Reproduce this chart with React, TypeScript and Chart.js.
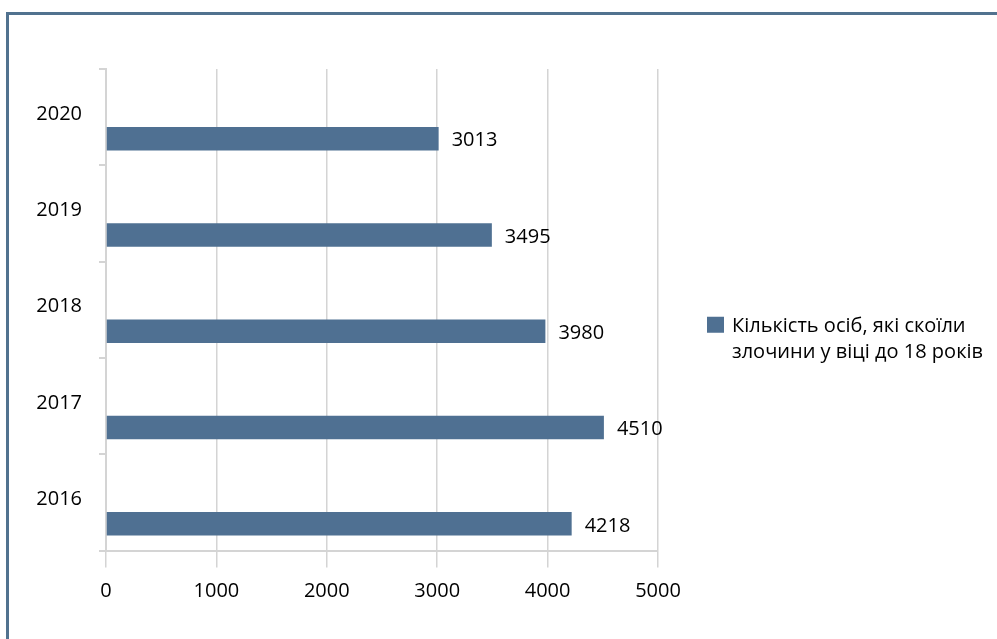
import React, { useEffect, useRef } from 'react';
import { Chart, registerables } from 'chart.js';

Chart.register(...registerables);

const years = ['2020', '2019', '2018', '2017', '2016'];
const offenders = [3013, 3495, 3980, 4510, 4218];
const placeholder = [null, null, null, null, null];
const seriesLabel = 'Кількість осіб, які скоїли злочини у віці до 18 років';
const xTickValues = [0, 1000, 2000, 3000, 4000, 5000];

const FONT = '"Open Sans", "Noto Sans", sans-serif';
const TEXT = '#000000';
const BAR = '#4f7092';
const GRID = '#d4d4d4';
const FONT_SIZE = 20;

const valueLabels = {
  id: 'valueLabels',
  afterDatasetsDraw(chart: any) {
    const ctx = chart.ctx;
    const meta = chart.getDatasetMeta(1);
    const data = chart.data.datasets[1].data;
    ctx.save();
    ctx.font = `${FONT_SIZE}px ${FONT}`;
    ctx.fillStyle = TEXT;
    ctx.textAlign = 'left';
    ctx.textBaseline = 'middle';
    meta.data.forEach((bar: any, i: number) => {
      ctx.fillText(String(data[i]), bar.x + 13, bar.y + 2);
    });
    ctx.restore();
  },
};

const sideLegend = {
  id: 'sideLegend',
  afterDraw(chart: any) {
    const { ctx, chartArea } = chart;
    const ds = chart.data.datasets[1];
    ctx.save();
    ctx.font = `${FONT_SIZE}px ${FONT}`;
    const words = String(ds.label).split(' ');
    const maxW = 255;
    const lines: string[] = [];
    let cur = '';
    words.forEach((w) => {
      const t = cur ? cur + ' ' + w : w;
      if (ctx.measureText(t).width > maxW && cur) {
        lines.push(cur);
        cur = w;
      } else cur = t;
    });
    if (cur) lines.push(cur);
    const lh = 26;
    const x0 = chartArea.right + 49;
    const cy = (chartArea.top + chartArea.bottom) / 2 + 30;
    const firstY = cy - ((lines.length - 1) * lh) / 2;
    ctx.fillStyle = ds.backgroundColor;
    ctx.fillRect(x0, firstY - 10, 17, 16);
    ctx.fillStyle = TEXT;
    ctx.textAlign = 'left';
    ctx.textBaseline = 'middle';
    lines.forEach((l, i) => ctx.fillText(l, x0 + 25, firstY + i * lh));
    ctx.restore();
  },
};

export default function App() {
  const ref = useRef<HTMLCanvasElement>(null);

  useEffect(() => {
    if (!ref.current) return;
    const chart = new Chart(ref.current, {
      type: 'bar',
      data: {
        labels: years,
        datasets: [
          {
            label: '',
            data: placeholder as any,
            backgroundColor: 'rgba(0,0,0,0)',
          },
          {
            label: seriesLabel,
            data: offenders,
            backgroundColor: BAR,
          },
        ],
      },
      options: {
        indexAxis: 'y',
        responsive: false,
        animation: false,
        categoryPercentage: 0.893,
        barPercentage: 0.547,
        layout: { padding: { left: 0, top: 69, right: 339, bottom: 0 } },
        plugins: {
          legend: { display: false },
          tooltip: { enabled: false },
        },
        scales: {
          x: {
            type: 'linear',
            min: 0,
            max: 5000,
            afterBuildTicks: (scale: any) => {
              scale.ticks = xTickValues.map((v) => ({ value: v }));
            },
            afterFit: (scale: any) => {
              scale.height = 88.5;
            },
            grid: { color: GRID, lineWidth: 1.5, tickLength: 17, drawTicks: true },
            border: { display: true, color: GRID, width: 2 },
            ticks: {
              color: TEXT,
              font: { family: FONT, size: FONT_SIZE },
              padding: 12,
              maxRotation: 0,
              callback: (v: any) => String(v),
            },
          },
          y: {
            type: 'category',
            afterFit: (scale: any) => {
              scale.width = 106;
            },
            grid: {
              offset: true,
              drawOnChartArea: false,
              tickLength: 7,
              color: GRID,
              lineWidth: 2,
            },
            border: { display: true, color: GRID, width: 2 },
            ticks: {
              color: TEXT,
              font: { family: FONT, size: FONT_SIZE },
              padding: 17,
              labelOffset: -3,
            },
          },
        },
      },
      plugins: [valueLabels, sideLegend],
    });
    return () => chart.destroy();
  }, []);

  return (
    <div style={{ position: 'absolute', left: 0, top: 0, width: 997, height: 639, overflow: 'hidden', background: '#fff' }}>
      <div
        style={{
          position: 'absolute',
          left: 6,
          top: 12,
          width: 1100,
          height: 700,
          borderTop: '3px solid #51728f',
          borderLeft: '3px solid #51728f',
        }}
      />
      <canvas
        ref={ref}
        width={997}
        height={639}
        style={{ position: 'absolute', left: 0, top: 0, width: 997, height: 639 }}
      />
    </div>
  );
}
